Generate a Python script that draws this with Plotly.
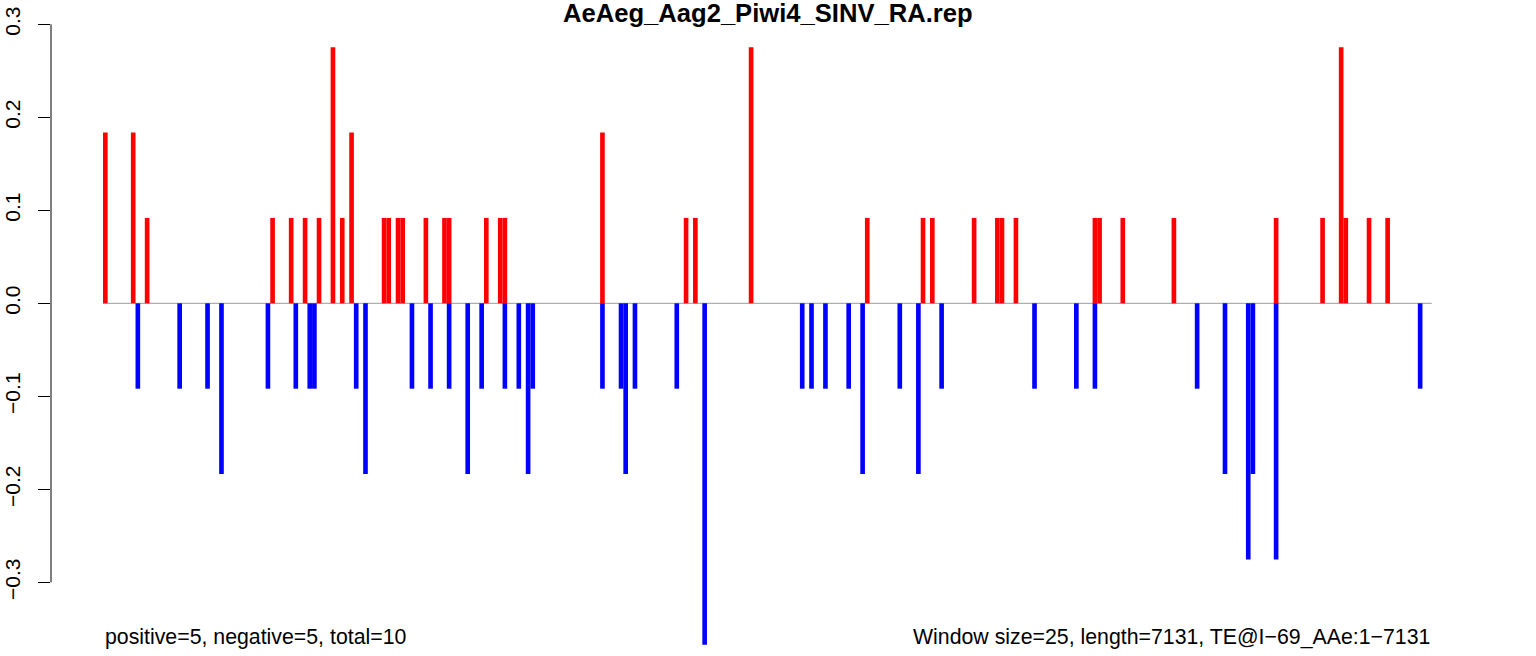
import math
import plotly.graph_objects as go

title = "AeAeg_Aag2_Piwi4_SINV_RA.rep"
window_size = 25
te_length = 7131
n_win = math.ceil(te_length / window_size)

# window index -> normalised count (sense strand, red)
pos_idx = [0, 6, 9, 36, 40, 43, 46, 49, 51, 53, 60, 61, 63, 64, 69, 73, 74, 82, 85, 86,
           107, 125, 127, 139, 164, 176, 178, 187, 192, 193, 196, 213, 214, 219, 230,
           252, 262, 266, 267, 272, 276]
pos_val = [0.1836, 0.1836, 0.0918, 0.0918, 0.0918, 0.0918, 0.0918, 0.2754, 0.0918, 0.1836,
           0.0918, 0.0918, 0.0918, 0.0918, 0.0918, 0.0918, 0.0918, 0.0918, 0.0918, 0.0918,
           0.1836, 0.0918, 0.0918, 0.2754, 0.0918, 0.0918, 0.0918, 0.0918, 0.0918, 0.0918,
           0.0918, 0.0918, 0.0918, 0.0918, 0.0918, 0.0918, 0.0918, 0.2754, 0.0918, 0.0918,
           0.0918]

# antisense strand, blue
neg_idx = [7, 16, 22, 25, 35, 41, 44, 45, 54, 56, 66, 70, 74, 78, 81, 86, 89, 91, 92,
           107, 111, 112, 114, 123, 129, 150, 152, 155, 160, 163, 171, 175, 180, 200,
           209, 213, 235, 241, 246, 247, 252, 283]
neg_val = [-0.0918, -0.0918, -0.0918, -0.1836, -0.0918, -0.0918, -0.0918, -0.0918, -0.0918,
           -0.1836, -0.0918, -0.0918, -0.0918, -0.1836, -0.0918, -0.0918, -0.0918, -0.1836,
           -0.0918, -0.0918, -0.0918, -0.1836, -0.0918, -0.0918, -0.3672, -0.0918, -0.0918,
           -0.0918, -0.0918, -0.1836, -0.0918, -0.1836, -0.0918, -0.0918, -0.0918, -0.0918,
           -0.0918, -0.1836, -0.2754, -0.1836, -0.2754, -0.0918]

y_ticks = [-0.3, -0.2, -0.1, 0.0, 0.1, 0.2, 0.3]
y_tick_text = [("%.1f" % v).replace("-", "\u2212") for v in y_ticks]

left_note = "positive=5, negative=5, total=10"
right_note = "Window size=%d, length=%d, TE@I\u221269_AAe:1\u2212%d" % (window_size, te_length, te_length)

font = "Liberation Sans, Arial, Helvetica, sans-serif"
W, H, L = 1536, 656, 51

fig = go.Figure()
fig.add_trace(go.Bar(x=[i + 0.5 for i in pos_idx], y=pos_val, width=1,
                     marker=dict(color="#FF0000", line=dict(width=0))))
fig.add_trace(go.Bar(x=[i + 0.5 for i in neg_idx], y=neg_val, width=1,
                     marker=dict(color="#0000FF", line=dict(width=0))))

# zero line and R-style y axis line
fig.add_shape(type="line", xref="x", yref="y", x0=0, x1=n_win, y0=0, y1=0,
              line=dict(color="#9a9a9a", width=1), layer="below")
fig.add_shape(type="line", xref="paper", yref="y", x0=0, x1=0,
              y0=min(y_ticks), y1=max(y_ticks), line=dict(color="black", width=1))

# title centred on the whole figure
fig.add_annotation(text="<b>%s</b>" % title, xref="paper", x=(W / 2 - L) / (W - L),
                   xanchor="center", yref="paper", y=1, yanchor="top", yshift=3,
                   showarrow=False, font=dict(family=font, size=25.6, color="black"))

fig.add_annotation(text=left_note, xref="x", x=0, xanchor="left",
                   yref="paper", y=0.029, yanchor="middle", showarrow=False,
                   font=dict(family=font, size=21.3, color="black"))
fig.add_annotation(text=right_note, xref="x", x=n_win, xanchor="right",
                   yref="paper", y=0.029, yanchor="middle", showarrow=False,
                   font=dict(family=font, size=21.3, color="black"))

px_per_win = 4.646
fig.update_layout(
    width=W, height=H,
    margin=dict(l=L, r=0, t=0, b=0, autoexpand=False),
    paper_bgcolor="white", plot_bgcolor="white",
    showlegend=False, barmode="overlay",
    xaxis=dict(visible=False, automargin=False,
               range=[-52 / px_per_win, 1433 / px_per_win]),
    yaxis=dict(range=[-0.3792, 0.3261], tickvals=y_ticks, ticktext=y_tick_text,
               automargin=False, tickangle=-90, ticks="outside", ticklen=12,
               tickwidth=1, tickcolor="black", ticklabelstandoff=10,
               showgrid=False, zeroline=False, showline=False,
               tickfont=dict(family=font, size=21, color="black")),
)

# page body has a default 8px margin; drop it so the figure fills the window
fig.write_html("out.html", config={"displayModeBar": False},
               post_script="document.body.style.margin='0px';")
